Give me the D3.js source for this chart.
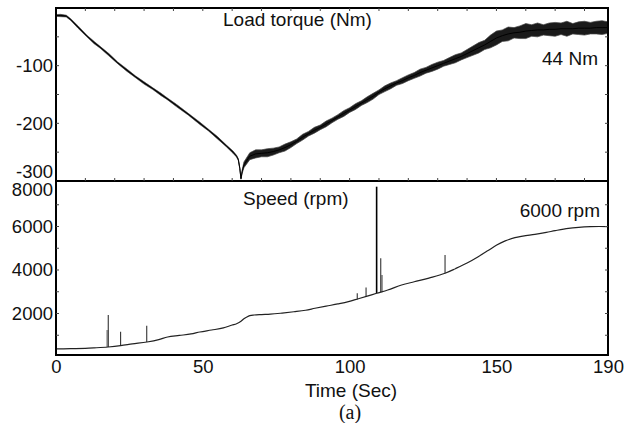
<!DOCTYPE html>
<html><head><meta charset="utf-8">
<script src="https://cdn.jsdelivr.net/npm/d3@7"></script>
<style>body{margin:0;background:#fff}svg{display:block}text{font-family:"Liberation Sans",Arial,sans-serif}</style>
</head><body>
<svg id="chart" width="635" height="423"></svg>
<script>
// ---- data ----
const xTickValues = [0, 50, 100, 150, 188];
const xTickLabels = ["0", "50", "100", "150", "190"];
const torqueTickValues = [-100, -200, -300];
const torqueTickLabels = ["-100", "-200", "-300"];
const speedTickValues = [2000, 4000, 6000, 8000];
const speedTickLabels = ["2000", "4000", "6000", "8000"];

const torqueTime = [0,1.5,3.5,5,7.5,10.6,13,15,18,21,24.2,27,30,33,35.8,37.8,41,45,49,52,55,58,60.3,61.5,62.1,62.6,63.0,63.4,
  64,66,68,70,72,74,76,78,80,82,84,86,88,90,92,94,96,98,100,102,104,106,108,110,112,114,116,118,120,122,124,126,128,130,132,134,136,138,140,142,144,146,148,150,152,154,156,158,160,162,164,166,168,170,172,174,176,178,180,182,184,186,188];
const torqueMid = [-13,-13,-14,-20,-33,-49,-60,-68,-81,-95,-108,-119,-130,-140,-150,-157,-169,-184,-200,-212,-225,-239,-250,-257,-263,-278,-296,-284,
  -272,-257,-253,-252,-251,-249,-246,-242,-237,-231,-224,-218,-212,-207,-201,-195,-189,-183,-177,-171,-165,-159,-153,-146,-140,-135,-130,-126,-121,-117,-112,-108,-104,-100,-96,-92,-88,-84,-79,-74,-69,-64,-58,-52,-48,-45,-43,-42,-40,-39,-38,-38,-37,-37,-36,-36,-36,-35,-35,-35,-34,-34,-34];
const torqueSpread = [1.5,2,1.5,1.5,2,1.5,2,1.5,2,1.5,2,1.5,2,1.5,2,1.5,2,1.5,2,1.5,2,1.5,2,1.5,1.5,1,1,3,
  5,6,7,6,7,6,5,6,5,
  4,5,4,5,4,5,4,4,5,4,5,4,5,5,4,5,5,4,5,5,
  5,6,5,6,6,5,6,7,6,7,
  8,9,8,11,12,
  10,12,9,11,13,10,12,9,11,12,10,13,9,11,12,10,11,12,10];

const speedTime = [0,5,10,13,17.8,22,26,31,35,38,42,46,49,53,57,60,61.5,63,64,65,66,67.5,70,73,77,81,85,88.2,92,96,99.6,103,106,109.2,113,117.7,122,127,132.5,136,140,143.8,147,150.1,153,156.3,159,163.1,167,170,174.5,178,182,185,188];
const speedValue = [370,385,400,420,460,520,600,690,800,920,990,1060,1150,1240,1340,1470,1530,1640,1760,1840,1900,1930,1950,1970,2020,2080,2150,2240,2340,2440,2545,2680,2800,2930,3080,3310,3460,3630,3850,4060,4320,4610,4880,5150,5340,5490,5560,5640,5730,5810,5915,5960,5990,6000,5990];

const spikeTime = [17.8, 22, 30.9, 102.6, 105.6, 109.2, 110.6, 132.5];
const spikeBase = [460, 520, 690, 2650, 2760, 2930, 2980, 3850];
const spikePeak = [1930, 1165, 1440, 2930, 3190, 7830, 4540, 4690];
const greyTime = [17.5, 111.0];
const greyBase = [460, 2980];
const greyPeak = [1240, 3770];

// ---- layout ----
const svg = d3.select("#chart");
const L = 56, R = 608, T = 8, MID = 181, B = 355;
const x = d3.scaleLinear().domain([0, 188]).range([L, R]);
const yT = d3.scaleLinear().domain([-300, 0]).range([MID, T]);
const yS = d3.scaleLinear().domain([0, 8000]).range([357, 183]);

const defs = svg.append("defs");
defs.append("clipPath").attr("id", "clipTop").append("rect").attr("x", L).attr("y", T - 1).attr("width", R - L).attr("height", MID - T);
defs.append("clipPath").attr("id", "clipBot").append("rect").attr("x", L).attr("y", MID).attr("width", R - L).attr("height", B - MID);

// torque band
const tData = torqueTime.map((t, i) => ({t, m: torqueMid[i], s: torqueSpread[i]}));
const gTop = svg.append("g").attr("clip-path", "url(#clipTop)");
gTop.append("path").datum(tData)
  .attr("d", d3.area().x(d => x(d.t)).y0(d => yT(d.m - d.s)).y1(d => yT(d.m + d.s)))
  .attr("fill", "#1a1a1a").attr("stroke", "#444").attr("stroke-width", 0.7);
gTop.append("path").datum(tData)
  .attr("d", d3.line().x(d => x(d.t)).y(d => yT(d.m)))
  .attr("fill", "none").attr("stroke", "#000").attr("stroke-width", 1);

// speed
const gBot = svg.append("g").attr("clip-path", "url(#clipBot)");
greyTime.forEach((t, i) => {
  gBot.append("line").attr("x1", x(t)).attr("x2", x(t)).attr("y1", yS(greyBase[i])).attr("y2", yS(greyPeak[i]))
    .attr("stroke", "#9a9a9a").attr("stroke-width", 2.2);
});
spikeTime.forEach((t, i) => {
  gBot.append("line").attr("x1", x(t)).attr("x2", x(t)).attr("y1", yS(spikeBase[i])).attr("y2", yS(spikePeak[i]))
    .attr("stroke", i === 5 ? "#000" : "#333").attr("stroke-width", i === 5 ? 1.6 : 1.1);
});
gBot.append("path").datum(speedTime.map((t, i) => [t, speedValue[i]]))
  .attr("d", d3.line().x(d => x(d[0])).y(d => yS(d[1])).curve(d3.curveMonotoneX))
  .attr("fill", "none").attr("stroke", "#222").attr("stroke-width", 1.2);

// frame
const frame = svg.append("g").attr("stroke", "#000").attr("stroke-width", 2).attr("fill", "none");
frame.append("rect").attr("x", L).attr("y", T).attr("width", R - L).attr("height", B - T);
frame.append("line").attr("x1", L).attr("x2", R).attr("y1", MID).attr("y2", MID);

// inner minor ticks
const minorX = d3.range(10, 188, 10);
const mt = svg.append("g").attr("stroke", "#444").attr("stroke-width", 1);
minorX.forEach(v => {
  mt.append("line").attr("x1", x(v)).attr("x2", x(v)).attr("y1", T).attr("y2", T + 3);
  mt.append("line").attr("x1", x(v)).attr("x2", x(v)).attr("y1", MID).attr("y2", MID - 3);
});
d3.range(-50, -300, -50).forEach(v => {
  mt.append("line").attr("x1", L).attr("x2", L + 3).attr("y1", yT(v)).attr("y2", yT(v));
  mt.append("line").attr("x1", R).attr("x2", R - 3).attr("y1", yT(v)).attr("y2", yT(v));
});
d3.range(1000, 8000, 1000).forEach(v => {
  mt.append("line").attr("x1", L).attr("x2", L + 3).attr("y1", yS(v)).attr("y2", yS(v));
  mt.append("line").attr("x1", R).attr("x2", R - 3).attr("y1", yS(v)).attr("y2", yS(v));
});

// axes
const fs = "18.5px";
const axT = svg.append("g").attr("transform", `translate(${L},0)`)
  .call(d3.axisLeft(yT).tickValues(torqueTickValues).tickSize(0).tickPadding(3).tickFormat((d, i) => torqueTickLabels[i]));
axT.select(".domain").remove();
axT.selectAll("text").attr("font-size", fs).attr("fill", "#111")
  .attr("dy", d => d === -300 ? "-0.18em" : "0.32em");
const axS = svg.append("g").attr("transform", `translate(${L},0)`)
  .call(d3.axisLeft(yS).tickValues(speedTickValues).tickSize(0).tickPadding(3).tickFormat((d, i) => speedTickLabels[i]));
axS.select(".domain").remove();
axS.selectAll("text").attr("font-size", fs).attr("fill", "#111")
  .attr("dy", d => d === 8000 ? "0.66em" : "0.32em");
const axX = svg.append("g").attr("transform", `translate(0,${B})`)
  .call(d3.axisBottom(x).tickValues(xTickValues).tickSize(0).tickPadding(4)
    .tickFormat((d, i) => xTickLabels[i]));
axX.select(".domain").remove();
axX.selectAll("text").attr("font-size", fs).attr("fill", "#111").attr("dy", "0.75em");

// labels
svg.append("text").attr("x", 223).attr("y", 26).attr("font-size", "19px").attr("fill", "#111").text("Load torque (Nm)");
svg.append("text").attr("x", 598).attr("y", 65).attr("font-size", "19px").attr("fill", "#111").attr("text-anchor", "end").text("44 Nm");
svg.append("text").attr("x", 243).attr("y", 205).attr("font-size", "19px").attr("fill", "#111").text("Speed (rpm)");
svg.append("text").attr("x", 600).attr("y", 217).attr("font-size", "19px").attr("fill", "#111").attr("text-anchor", "end").text("6000 rpm");
svg.append("text").attr("x", 351).attr("y", 397).attr("font-size", "19px").attr("fill", "#111").attr("text-anchor", "middle").text("Time (Sec)");
svg.append("text").attr("x", 350).attr("y", 419).attr("font-size", "20px").attr("fill", "#111").attr("text-anchor", "middle")
  .style("font-family", "'Liberation Serif','Times New Roman',serif").text("(a)");
</script>
</body></html>
